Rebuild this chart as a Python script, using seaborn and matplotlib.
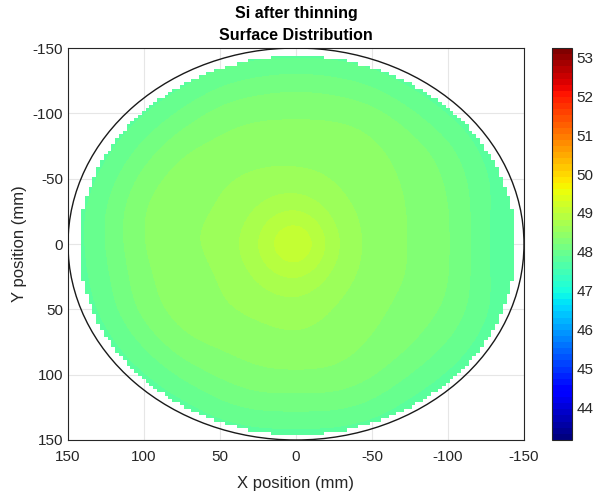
import numpy as np
import matplotlib
matplotlib.use("Agg")
import matplotlib.pyplot as plt
from matplotlib.patches import Circle, Polygon
import seaborn as sns

# Measurement grid (mm): columns are X positions, rows are Y positions
x_pos = [-150, -125, -100, -75, -50, -25, 0, 25, 50, 75, 100, 125, 150]
y_pos = [-150, -125, -100, -75, -50, -25, 0, 25, 50, 75, 100, 125, 150]

# Thickness readings (um); rows follow y_pos, columns follow x_pos
row_m150 = [47.65, 47.65, 47.65, 47.65, 47.7, 47.75, 47.75, 47.75, 47.7, 47.65, 47.65, 47.65, 47.65]
row_m125 = [47.65, 47.65, 47.7, 47.8, 48.0, 48.1, 48.15, 48.1, 48.0, 47.8, 47.7, 47.65, 47.65]
row_m100 = [47.65, 47.7, 47.85, 48.1, 48.3, 48.35, 48.35, 48.35, 48.3, 48.1, 47.85, 47.7, 47.65]
row_m75 = [47.65, 47.8, 48.1, 48.3, 48.4, 48.45, 48.45, 48.45, 48.4, 48.35, 48.1, 47.8, 47.65]
row_m50 = [47.7, 47.9, 48.2, 48.35, 48.4, 48.5, 48.55, 48.55, 48.5, 48.45, 48.3, 47.95, 47.7]
row_m25 = [47.65, 47.9, 48.25, 48.35, 48.45, 48.6, 48.9, 48.7, 48.5, 48.5, 48.4, 48.05, 47.75]
row_0 = [47.65, 47.9, 48.25, 48.35, 48.45, 48.7, 49.45, 48.85, 48.55, 48.5, 48.4, 48.05, 47.75]
row_p25 = [47.65, 47.9, 48.25, 48.35, 48.45, 48.6, 48.9, 48.7, 48.5, 48.45, 48.35, 48.0, 47.75]
row_p50 = [47.7, 47.9, 48.2, 48.3, 48.4, 48.5, 48.6, 48.55, 48.5, 48.45, 48.3, 47.95, 47.7]
row_p75 = [47.65, 47.8, 48.05, 48.25, 48.35, 48.45, 48.5, 48.45, 48.4, 48.35, 48.1, 47.8, 47.65]
row_p100 = [47.65, 47.7, 47.85, 48.05, 48.25, 48.35, 48.35, 48.35, 48.25, 48.1, 47.85, 47.7, 47.65]
row_p125 = [47.65, 47.65, 47.7, 47.8, 48.0, 48.1, 48.1, 48.1, 48.0, 47.8, 47.7, 47.65, 47.65]
row_p150 = [47.65, 47.65, 47.65, 47.65, 47.7, 47.75, 47.75, 47.75, 47.7, 47.65, 47.65, 47.65, 47.65]

thickness = np.array([row_m150, row_m125, row_m100, row_m75, row_m50, row_m25, row_0,
                      row_p25, row_p50, row_p75, row_p100, row_p125, row_p150])

cbar_ticks = [44, 45, 46, 47, 48, 49, 50, 51, 52, 53]
axis_ticks = [-150, -100, -50, 0, 50, 100, 150]

sns.set_theme(style="whitegrid")
plt.rcParams["font.family"] = ["Liberation Sans", "DejaVu Sans"]
plt.rcParams["axes.unicode_minus"] = False

fig = plt.figure(figsize=(6.0, 4.92), dpi=100)
ax = fig.add_axes([0.1133, 0.1057, 0.76, 0.7967])
cax = fig.add_axes([0.92, 0.1057, 0.0333, 0.7967])

ax.set_facecolor("white")
ax.grid(True, color="#e6e6e6", linewidth=0.8)
ax.set_axisbelow(True)

half = 12.5
extent = [x_pos[0] - half, x_pos[-1] + half, y_pos[-1] + half, y_pos[0] - half]
cmap = plt.get_cmap("jet", 64)
im = ax.imshow(thickness, extent=extent, origin="upper", cmap=cmap,
               vmin=43.15, vmax=53.25, interpolation="bicubic", aspect="auto", zorder=2)

# wafer measurement area, outlined on the 2.5 mm sampling raster
cx, cy, radius, step = -1.0, 1.0, 145.0, 2.5
rows = np.arange(-radius, radius, step)
right_side, left_side = [], []
for y0 in rows:
    yc = y0 + step / 2
    w = np.floor(np.sqrt(max(radius ** 2 - yc ** 2, 0)) / step) * step
    right_side += [(cx + w, cy + y0), (cx + w, cy + y0 + step)]
    left_side += [(cx - w, cy + y0), (cx - w, cy + y0 + step)]
outline = right_side + left_side[::-1]
wafer = Polygon(outline, closed=True, transform=ax.transData)
im.set_clip_path(wafer)

# wafer outline
ax.add_patch(Circle((0, 0), 150, fill=False, edgecolor="#1a1a1a", linewidth=1.0, zorder=3))

ax.set_xlim(150, -150)
ax.set_ylim(150, -150)
ax.set_xticks(axis_ticks)
ax.set_yticks(axis_ticks)
ax.tick_params(axis="x", pad=7)
ax.tick_params(direction="in", length=3, labelsize=11, colors="#262626")
for s in ax.spines.values():
    s.set_color("#262626")
    s.set_linewidth(0.8)
    s.set_visible(True)

ax.set_xlabel("X position (mm)", fontsize=12, color="#262626", labelpad=9)
ax.set_ylabel("Y position (mm)", fontsize=12, color="#262626", labelpad=4)
ax.set_title("Si after thinning\nSurface Distribution", fontsize=11.5, fontweight="bold",
             color="black", pad=6, linespacing=1.55)

cb = fig.colorbar(im, cax=cax)
cb.set_ticks(cbar_ticks)
cb.ax.tick_params(direction="in", length=3, labelsize=11, colors="#262626")
cb.outline.set_edgecolor("#262626")
cb.outline.set_linewidth(0.8)
cax.grid(False)

fig.savefig("out.png", dpi=100, facecolor="white")
